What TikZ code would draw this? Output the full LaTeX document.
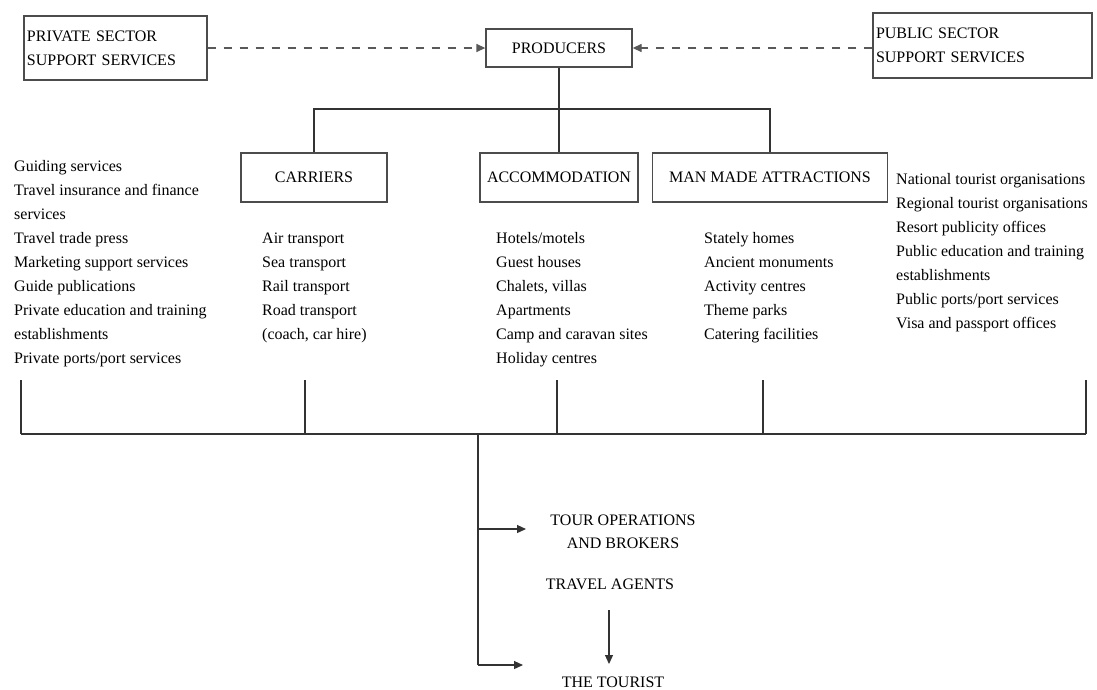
\documentclass[tikz,border=0pt]{standalone}
\usepackage{fontspec}
\setmainfont{Liberation Serif}
\usetikzlibrary{arrows.meta}
\newcommand\diagfont{\fontsize{16}{24}\selectfont}
\begin{document}
\begin{tikzpicture}[x=1pt,y=-1pt,
  box/.style={draw=black!70, line width=1.3pt, inner sep=0pt, font=\diagfont},
  item/.style={anchor=base west, inner sep=0pt, font=\diagfont},
  label/.style={anchor=base, inner sep=0pt, font=\diagfont},
  conn/.style={draw=black!80, line width=1.2pt},
  arr/.style={conn, -{Triangle[length=9pt,width=8pt]}},
  dasharrow/.style={draw=black!65, line width=1.3pt, dash pattern=on 8pt off 8pt, -{Triangle[length=9pt,width=8pt]}}]
\useasboundingbox (0,0) rectangle (1097,689);
\fill[white] (0,0) rectangle (1097,689);

% top boxes
\node[box, minimum width=183pt, minimum height=64pt, text width=177pt, align=left] (private) at (115.5,48) {PRIVATE SECTOR\\SUPPORT SERVICES};
\node[box, minimum width=146pt, minimum height=38pt] (producers) at (559,48) {PRODUCERS};
\node[box, minimum width=219pt, minimum height=65pt, text width=213pt, align=left] (public) at (982.5,45.5) {PUBLIC SECTOR\\SUPPORT SERVICES};

\draw[dasharrow] (private.east) -- (producers.west);
\draw[dasharrow] (public.west |- producers.west) -- (producers.east);

% second level boxes
\node[box, minimum width=146pt, minimum height=49pt] (carriers) at (314,177.5) {CARRIERS};
\node[box, minimum width=158pt, minimum height=49pt] (acc) at (559,177.5) {ACCOMMODATION};
\node[box, minimum width=235pt, minimum height=49pt] (mma) at (770,177.5) {MAN MADE ATTRACTIONS};

\coordinate (tj) at (559,109);
\draw[conn] (producers.south) -- (tj);
\draw[conn] (carriers.north) |- (tj) -| (mma.north);
\draw[conn] (tj) -- (acc.north);

% lists
\foreach \t [count=\i from 0] in {Guiding services, Travel insurance and finance, services, Travel trade press, Marketing support services, Guide publications, Private education and training, establishments, Private ports/port services}
  \node[item] (left\i) at (14, 171+24.1*\i) {\t};
\foreach \t [count=\i from 0] in {Air transport, Sea transport, Rail transport, Road transport, {(coach, car hire)}}
  \node[item] (car\i) at (262, 243+24*\i) {\t};
\foreach \t [count=\i from 0] in {Hotels/motels, Guest houses, {Chalets, villas}, Apartments, Camp and caravan sites, Holiday centres}
  \node[item] (acc\i) at (496, 243+24*\i) {\t};
\foreach \t [count=\i from 0] in {Stately homes, Ancient monuments, Activity centres, Theme parks, Catering facilities}
  \node[item] (mma\i) at (704, 243+24*\i) {\t};
\foreach \t [count=\i from 0] in {National tourist organisations, Regional tourist organisations, Resort publicity offices, Public education and training, establishments, Public ports/port services, Visa and passport offices}
  \node[item] (pub\i) at (896, 184+24*\i) {\t};

% bottom bar
\foreach \x [count=\i] in {21,305,557,763,1086} {
  \coordinate (bt\i) at (\x,380);
  \coordinate (bb\i) at (\x,434);
  \draw[conn] (bt\i) -- (bb\i);
}
\draw[conn] (bb1) -- (bb5);

% lower part
\coordinate (c0) at (478,434);
\coordinate (c1) at (478,529);
\coordinate (c2) at (478,665);
\coordinate (t1) at (526,529);
\coordinate (t2) at (523,665);
\draw[conn] (c0) -- (c2);
\draw[arr] (c1) -- (t1);
\draw[arr] (c2) -- (t2);

\node[label] (tour1) at (623,525) {TOUR OPERATIONS};
\node[label] (tour2) at (623,548) {AND BROKERS};
\node[label] (agents) at (610,589) {TRAVEL AGENTS};
\node[label] (tourist) at (613,687) {THE TOURIST};
\coordinate (a1) at (609,610);
\coordinate (a2) at (609,664);
\draw[arr] (a1) -- (a2);
\end{tikzpicture}
\end{document}
